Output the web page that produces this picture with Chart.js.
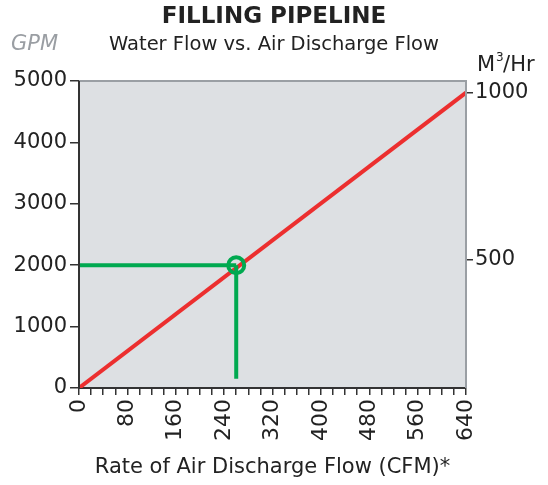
<!DOCTYPE html>
<html>
<head>
<meta charset="utf-8">
<script src="https://cdn.jsdelivr.net/npm/chart.js@4"></script>
<style>
  html, body { margin: 0; padding: 0; background: #fff; }
  #wrap { width: 548px; height: 485px; }
</style>
</head>
<body>
<div id="wrap"><canvas id="myChart"></canvas></div>
<script>
// data
var flowCfm = [0, 640]
var flowGpm = [0, 4810]
var pointCfm = 260
var pointGpm = 2000
var guideBottomGpm = 150
var xTicksLabelled = [0, 80, 160, 240, 320, 400, 480, 560, 640]
var m3Ticks = [500, 1000]

var FONT = "'DejaVu Sans', sans-serif"

// background + extra borders + loose texts
var decor = {
    id: 'decor',
    beforeDraw: function (chart) {
        var a = chart.chartArea, c = chart.ctx
        c.save()
        c.fillStyle = '#dde0e3'
        c.fillRect(a.left, a.top, a.right - a.left, a.bottom - a.top)
        c.restore()
    },
    afterDraw: function (chart) {
        var a = chart.chartArea, c = chart.ctx
        c.save()
        c.strokeStyle = '#9a9fa4'
        c.lineWidth = 2
        c.beginPath()
        c.moveTo(a.left, a.top)
        c.lineTo(a.right, a.top)
        c.lineTo(a.right, a.bottom)
        c.stroke()
        c.strokeStyle = '#333'
        c.beginPath()
        c.moveTo(a.left, a.top)
        c.lineTo(a.left, a.bottom)
        c.stroke()

        c.textBaseline = 'middle'
        c.textAlign = 'center'
        c.fillStyle = '#222'
        c.font = "bold 23px " + FONT
        c.fillText('FILLING PIPELINE', 274, 17)
        c.font = "19.5px " + FONT
        c.fillText('Water Flow vs. Air Discharge Flow', 274, 45)
        c.textAlign = 'left'
        c.fillStyle = '#9a9ea3'
        c.font = "italic 21px " + FONT
        c.fillText('GPM', 11, 45)
        c.fillStyle = '#222'
        c.font = "21px " + FONT
        c.fillText('M', 477, 66)
        var w = c.measureText('M').width
        c.font = "12px " + FONT
        c.fillText('3', 477 + w + 1, 58)
        c.font = "21px " + FONT
        c.fillText('/Hr', 477 + w + 8, 66)
        c.restore()
    }
}

var ctx = document.getElementById('myChart').getContext('2d')
var myChart = new Chart(ctx, {
    type: 'scatter',
    data: {
        datasets: [{
            data: [{ x: flowCfm[0], y: flowGpm[0] }, { x: flowCfm[1], y: flowGpm[1] }],
            showLine: true,
            borderColor: '#ec2f2f',
            borderWidth: 4,
            pointRadius: 0,
            order: 3
        }, {
            data: [{ x: 0, y: pointGpm }, { x: pointCfm, y: pointGpm }],
            showLine: true,
            borderColor: '#00a950',
            borderWidth: 4,
            pointRadius: 0,
            order: 2
        }, {
            data: [{ x: pointCfm, y: pointGpm }, { x: pointCfm, y: guideBottomGpm }],
            showLine: true,
            borderColor: '#00a950',
            borderWidth: 4,
            pointRadius: 0,
            order: 2
        }, {
            data: [{ x: pointCfm, y: pointGpm }],
            pointRadius: 8,
            pointBorderWidth: 4,
            pointBorderColor: '#00a950',
            pointBackgroundColor: 'rgba(0,0,0,0)',
            order: 1
        }]
    },
    options: {
        responsive: true,
        maintainAspectRatio: false,
        animation: false,
        layout: { padding: { top: 81, left: 0, right: 0, bottom: 0 } },
        plugins: {
            legend: { display: false },
            tooltip: { enabled: false }
        },
        scales: {
            x: {
                type: 'linear',
                min: 0,
                max: 640,
                afterBuildTicks: function (scale) {
                    var t = []
                    for (var v = 0; v <= 640; v += 20) t.push({ value: v })
                    scale.ticks = t
                },
                ticks: {
                    autoSkip: false,
                    maxRotation: 90,
                    minRotation: 90,
                    color: '#222',
                    padding: 4,
                    font: { family: FONT, size: 22 },
                    callback: function (v) {
                        return xTicksLabelled.indexOf(v) >= 0 ? String(v) : ''
                    }
                },
                grid: { drawOnChartArea: false, tickLength: 7, color: '#333', lineWidth: 1.5 },
                border: { color: '#333', width: 2 },
                title: {
                    display: true,
                    text: 'Rate of Air Discharge Flow (CFM)*',
                    color: '#222',
                    font: { family: FONT, size: 21 },
                    padding: { top: 4, bottom: 5 }
                },
                afterFit: function (scale) { scale.height = 97 }
            },
            y: {
                min: 0,
                max: 5000,
                afterBuildTicks: function (scale) {
                    var t = []
                    for (var v = 0; v <= 5000; v += 1000) t.push({ value: v })
                    scale.ticks = t
                },
                ticks: {
                    color: '#222',
                    padding: 3,
                    font: { family: FONT, size: 21 },
                    callback: function (v) { return String(v) }
                },
                grid: { drawOnChartArea: false, tickLength: 9, color: '#333', lineWidth: 1.5 },
                border: { display: false },
                afterFit: function (scale) { scale.width = 79 }
            },
            y2: {
                position: 'right',
                min: 116,
                max: 1035,
                afterBuildTicks: function (scale) {
                    scale.ticks = m3Ticks.map(function (v) { return { value: v } })
                },
                ticks: {
                    color: '#222',
                    padding: 2,
                    font: { family: FONT, size: 21 },
                    callback: function (v) { return String(v) }
                },
                grid: { drawOnChartArea: false, tickLength: 7, color: '#333', lineWidth: 1.5 },
                border: { display: false },
                afterFit: function (scale) { scale.width = 82 }
            }
        }
    },
    plugins: [decor]
})
</script>
</body>
</html>
